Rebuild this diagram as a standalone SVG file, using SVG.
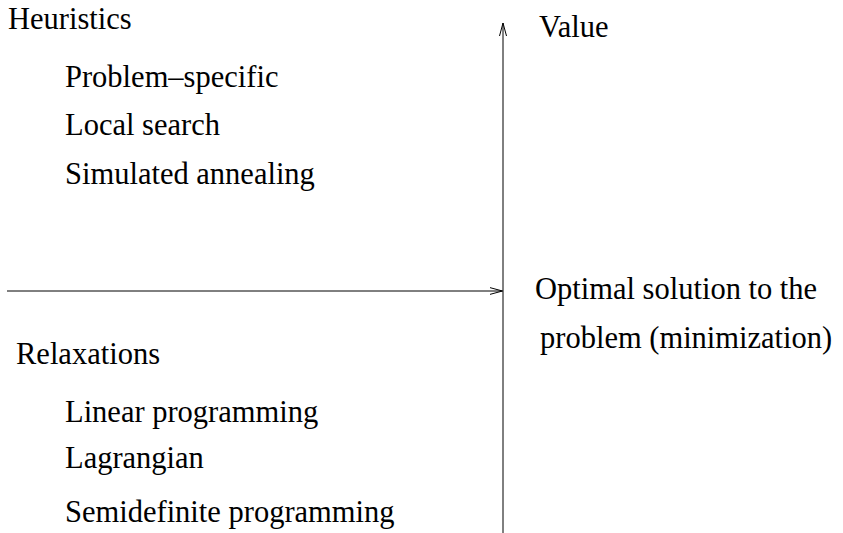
<svg xmlns="http://www.w3.org/2000/svg" width="843" height="533" viewBox="0 0 843 533">
  <style>
    text { font-family: "Liberation Serif", "Times New Roman", serif; font-size: 30.5px; fill: #000; }
    .conn { stroke: #000; stroke-width: 1; fill: none; }
  </style>
  <defs>
    <marker id="open" markerUnits="userSpaceOnUse" markerWidth="16" markerHeight="10" viewBox="0 -5 16 10" refX="13" refY="0" orient="auto">
      <path d="M0,-3.5 L13,0 L0,3.5" fill="none" stroke="#000" stroke-width="1"/>
    </marker>
  </defs>
  <rect width="843" height="533" fill="#fff"/>
  <g id="connectors">
    <line class="conn" x1="503" y1="533" x2="503" y2="23" marker-end="url(#open)"/>
    <line class="conn" x1="7" y1="291" x2="502.5" y2="291" marker-end="url(#open)"/>
  </g>
  <g id="heuristics">
    <text x="8" y="29">Heuristics</text>
    <text x="65" y="87">Problem–specific</text>
    <text x="65" y="135">Local search</text>
    <text x="65" y="184">Simulated annealing</text>
  </g>
  <g id="relaxations">
    <text x="16" y="364">Relaxations</text>
    <text x="65" y="422">Linear programming</text>
    <text x="65" y="468">Lagrangian</text>
    <text x="65" y="522">Semidefinite programming</text>
  </g>
  <g id="value">
    <text x="539" y="37">Value</text>
  </g>
  <g id="optimal">
    <text x="535" y="299">Optimal solution to the</text>
    <text x="540" y="348">problem (minimization)</text>
  </g>
</svg>
